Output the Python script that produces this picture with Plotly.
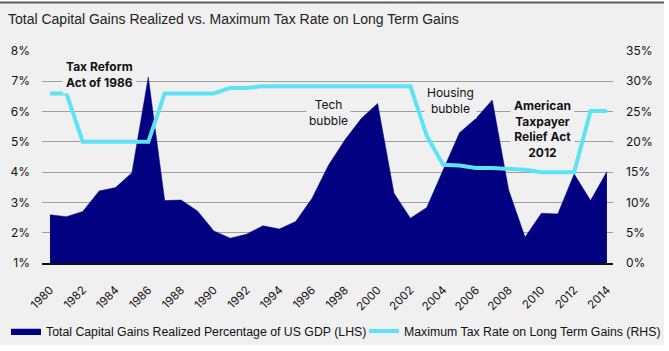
import plotly.graph_objects as go

years = list(range(1980, 2015))
gains_pct_gdp = [2.59, 2.53, 2.70, 3.38, 3.49, 3.98, 7.14, 3.06, 3.08, 2.72,
                 2.06, 1.82, 1.95, 2.23, 2.12, 2.37, 3.14, 4.23, 5.06, 5.77,
                 6.27, 3.30, 2.48, 2.83, 4.07, 5.30, 5.77, 6.38, 3.41, 1.85,
                 2.64, 2.62, 3.94, 3.06, 4.02]
max_tax_rate = [28.0, 28.0, 20.0, 20.0, 20.0, 20.0, 20.0, 28.0, 28.0, 28.0,
                28.0, 28.9, 28.9, 29.2, 29.2, 29.2, 29.2, 29.2, 29.2, 29.2,
                29.2, 29.2, 29.2, 21.0, 16.2, 16.1, 15.7, 15.7, 15.5, 15.4,
                15.0, 15.0, 15.0, 25.1, 25.1]

left_ticks = [1, 2, 3, 4, 5, 6, 7, 8]
left_labels = [f"{v}%" for v in left_ticks]
right_ticks = [0, 5, 10, 15, 20, 25, 30, 35]
right_labels = [f"{v}%" for v in right_ticks]

NAVY = "#000080"
CYAN = "#5ce3f5"
BG = "#f0f0f0"
TICKFONT = dict(family="Inter, Roboto, sans-serif", size=12, color="#111")
NARROW = "Liberation Sans Narrow, Arial Narrow, Liberation Sans, sans-serif"

L, R, T, B = 42, 56, 51, 88
W, H = 669, 351
pw, ph = W - L - R, H - T - B

def px(xp):
    return (xp - L) / pw

def py(yp):
    return (H - B - yp) / ph

fig = go.Figure()
fig.add_trace(go.Scatter(
    x=years, y=gains_pct_gdp, mode="lines", fill="tozeroy",
    fillcolor=NAVY, line=dict(color=NAVY, width=0.5),
    name="Total Capital Gains Realized Percentage of US GDP (LHS)",
    legend="legend",
))
fig.add_trace(go.Scatter(
    x=years, y=max_tax_rate, mode="lines", yaxis="y2",
    line=dict(color=CYAN, width=4),
    name="Maximum Tax Rate on Long Term Gains (RHS)",
    legend="legend2",
))

legend_font = dict(family=NARROW, size=12.3, color="#111")
fig.update_layout(
    width=W, height=H,
    margin=dict(l=L, r=R, t=T, b=B, autoexpand=False),
    paper_bgcolor="white",
    plot_bgcolor="rgba(0,0,0,0)",
    showlegend=True,
    legend=dict(orientation="h", x=px(6), y=py(331), xanchor="left", yanchor="middle",
                font=legend_font, bgcolor="rgba(0,0,0,0)", itemwidth=30),
    legend2=dict(orientation="h", x=px(364), y=py(331), xanchor="left", yanchor="middle",
                 font=legend_font, bgcolor="rgba(0,0,0,0)", itemwidth=30),
    xaxis=dict(range=[1979.51, 2014.37], tickmode="array",
               tickvals=years[::2], ticktext=[str(y) for y in years[::2]],
               tickangle=-45, tickfont=dict(family="Inter, Roboto, sans-serif", size=11.5, color="#111"),
               showgrid=False, showline=True, linecolor="#111", linewidth=1.5,
               zeroline=False, ticks="", ticklabelstandoff=14, fixedrange=True),
    yaxis=dict(range=[1, 8], tickvals=left_ticks, ticktext=left_labels,
               tickfont=TICKFONT, showgrid=True, gridcolor="#a0a0a0", gridwidth=1,
               zeroline=False, showline=False, ticks="", ticklabelstandoff=11),
    yaxis2=dict(range=[0, 35], tickvals=right_ticks, ticktext=right_labels,
                overlaying="y", side="right", tickfont=TICKFONT, showgrid=False,
                zeroline=False, showline=False, ticks="", ticklabelstandoff=12),
    shapes=[
        dict(type="rect", xref="paper", yref="paper", x0=px(0), x1=px(664),
             y0=py(345), y1=py(3), fillcolor=BG, line=dict(width=0), layer="below"),
        dict(type="line", xref="paper", yref="paper", x0=px(0), x1=px(664),
             y0=py(2.5), y1=py(2.5), line=dict(color="#5a5a5a", width=2), layer="below"),
    ],
)

ann_font = dict(family="Inter, Roboto, sans-serif", size=12, color="#111")
fig.add_annotation(xref="paper", yref="paper", x=px(6), y=py(19), xanchor="left", yanchor="middle",
                   text="Total Capital Gains Realized vs. Maximum Tax Rate on Long Term Gains",
                   showarrow=False, font=dict(family=NARROW, size=14, color="#222"))
fig.add_annotation(x=1980.75, y=7.24, xanchor="left", yanchor="middle", align="left",
                   text="<b>Tax Reform<br>Act of 1986</b>", showarrow=False,
                   font=ann_font, bgcolor=BG, borderpad=3)
fig.add_annotation(x=1997.0, y=5.98, xanchor="center", yanchor="middle", align="center",
                   text="Tech<br>bubble", showarrow=False, font=ann_font, bgcolor=BG, borderpad=2)
fig.add_annotation(x=2004.42, y=6.38, xanchor="center", yanchor="middle", align="center",
                   text="Housing<br>bubble", showarrow=False, font=ann_font, bgcolor=BG, borderpad=2)
fig.add_annotation(x=2010.04, y=5.42, xanchor="center", yanchor="middle", align="center",
                   text="<b>American<br>Taxpayer<br>Relief Act<br>2012</b>", showarrow=False,
                   font=ann_font, bgcolor=BG, borderpad=3)

fig.write_html("out.html")
